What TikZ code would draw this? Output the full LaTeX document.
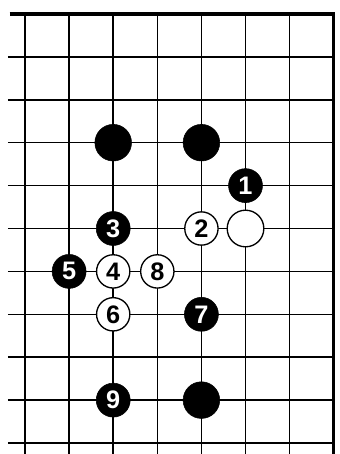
\documentclass[tikz,border=0pt]{standalone}
\usepackage{fontspec}
\setmainfont{Liberation Sans}
\usetikzlibrary{positioning}

\begin{document}
\begin{tikzpicture}[x=33.1pt, y=-32.2pt, font=\bfseries\fontsize{19}{19}\selectfont,
  blackstone/.style={circle, draw=black, fill=black, text=white, inner sep=0pt, minimum size=25.5pt},
  whitestone/.style={circle, draw=black, line width=1pt, fill=white, text=black, inner sep=0pt, minimum size=25pt},
  bigstone/.style={minimum size=27.5pt}]

\useasboundingbox (-0.567,-0.326) rectangle (7.12,10.256);

% Grid
\foreach \r in {1,...,10}
  \draw[line width=1.1pt] (-0.39,\r) -- (7,\r);
\foreach \c in {0,...,6}
  \draw[line width=1.1pt] (\c,0) -- (\c,10.256);
\draw[line width=2.4pt] (-0.35,0) -- (7,0) -- (7,10.256);

% Stones
\node (bA) [blackstone, bigstone] at (2,3) {};
\node (bB) [blackstone, bigstone] at (4,3) {};
\node (b1) [blackstone] at (5,4) {1};
\node (b3) [blackstone] at (2,5) {3};
\node (w2) [whitestone] at (4,5) {2};
\node (wA) [whitestone, bigstone] at (5,5) {};
\node (b5) [blackstone] at (1,6) {5};
\node (w4) [whitestone] at (2,6) {4};
\node (w8) [whitestone] at (3,6) {8};
\node (w6) [whitestone] at (2,7) {6};
\node (b7) [blackstone] at (4,7) {7};
\node (b9) [blackstone] at (2,9) {9};
\node (bC) [blackstone, bigstone] at (4,9) {};

\end{tikzpicture}
\end{document}
